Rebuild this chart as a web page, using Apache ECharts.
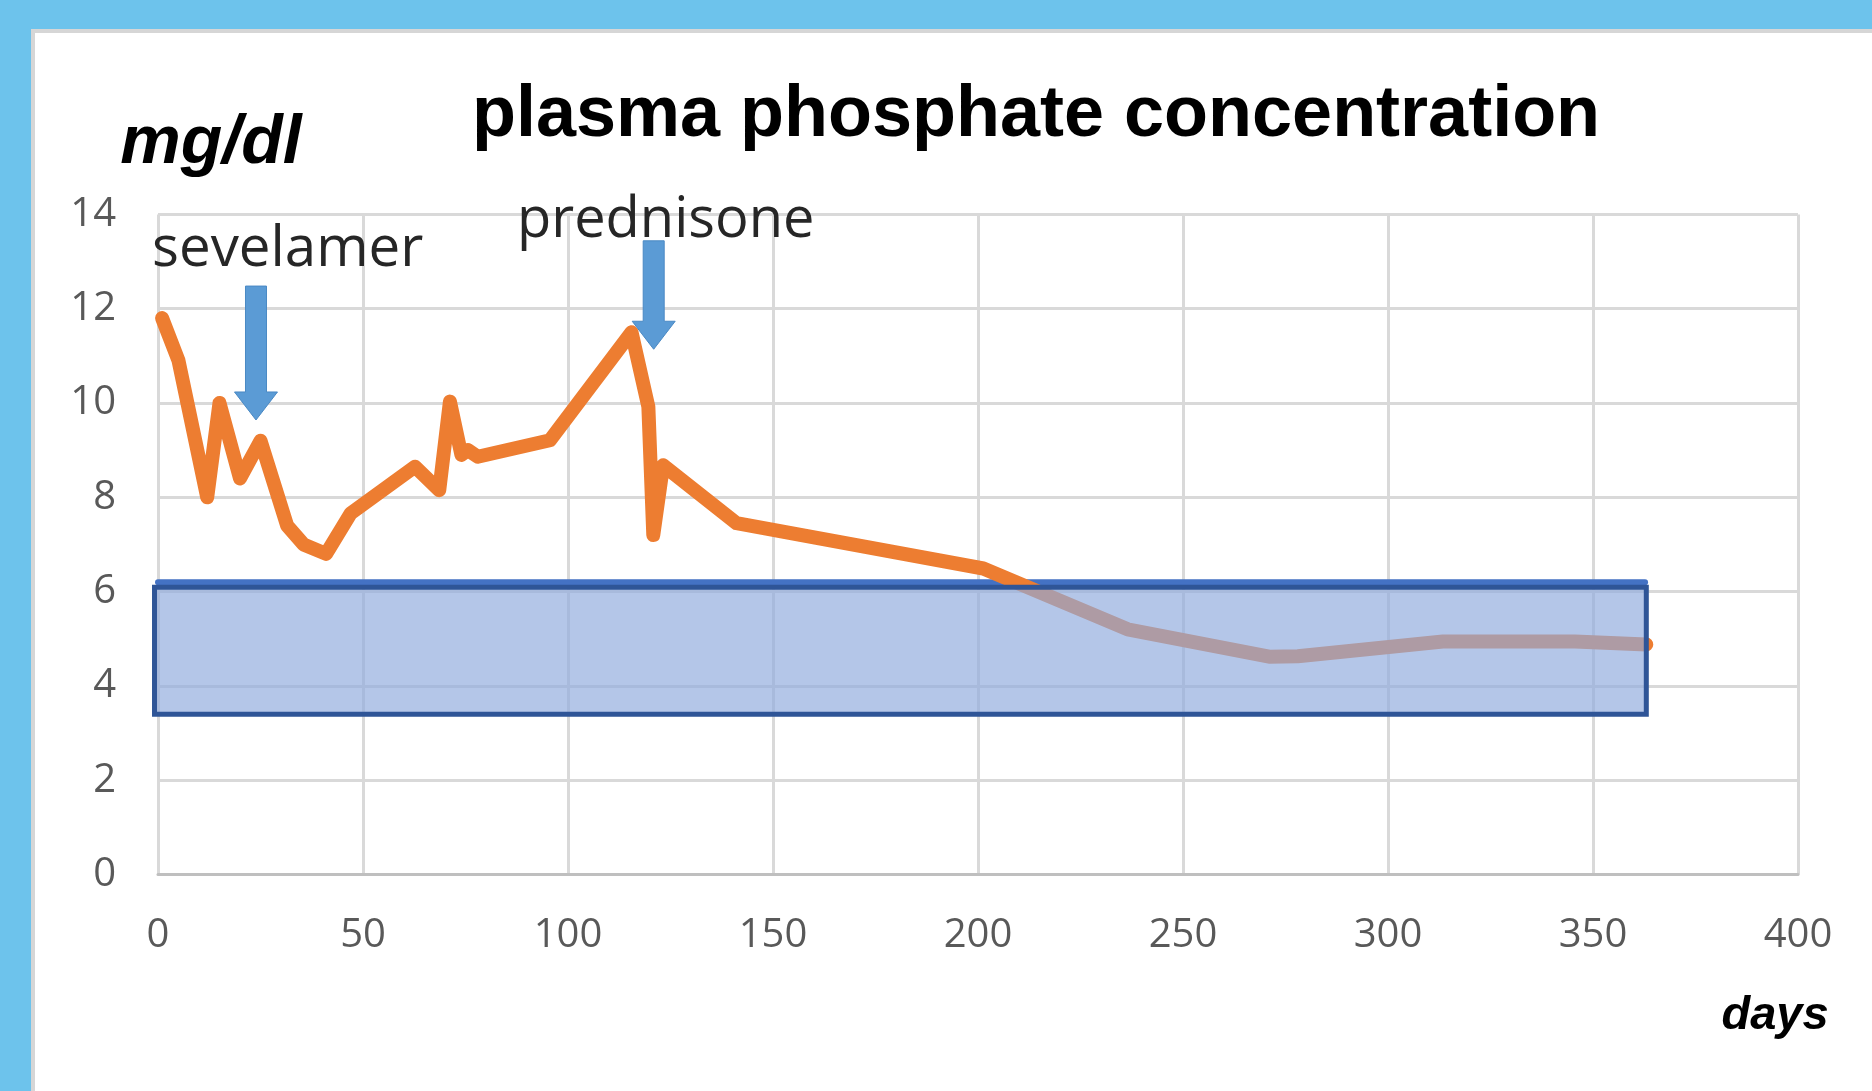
<!DOCTYPE html>
<html><head><meta charset="utf-8">
<script src="https://cdn.jsdelivr.net/npm/echarts@6/dist/echarts.min.js"></script>
<style>html,body{margin:0;padding:0;background:#6DC3EC}#c{width:1872px;height:1091px}</style>
</head><body><div id="c"></div>
<script>
// ---- data ----
const days = [1, 5, 12, 15, 20, 25, 31.5, 35.5, 41, 47, 62.7, 68.6, 71.2, 74, 75.6, 78, 95.6, 115.5, 119.6, 120.8, 123.2, 141.1, 201.3, 236.5, 271, 278, 313.4, 345.6, 363];
const phosphate = [11.8, 10.9, 8.0, 10.0, 8.4, 9.2, 7.4, 7.0, 6.8, 7.66, 8.65, 8.15, 10.03, 8.9, 9.0, 8.86, 9.21, 11.5, 9.92, 7.2, 8.68, 7.45, 6.49, 5.2, 4.62, 4.63, 4.94, 4.94, 4.88];

const arrowLabels = ['sevelamer', 'prednisone'];
const arrowDays = [23.9, 120.9];
const arrowTop = [12.48, 13.44];
const arrowTip = [9.64, 11.14];

const upperLimitValue = 6.2;
const upperLimitDays = [0, 362.7];
const rangeDays = [-0.85, 363];
const rangeValues = [3.4, 6.09];

const xMin = 0, xMax = 400, xStep = 50;
const yMin = 0, yMax = 14, yStep = 2;

const titleText = 'plasma phosphate concentration';
const yUnit = 'mg/dl';
const xUnit = 'days';

// ---- chart ----
const chart = echarts.init(document.getElementById('c'), null, {renderer: 'canvas'});
const labelFont = '"Open Sans", sans-serif';

const option = {
  backgroundColor: '#6DC3EC',
  animation: false,
  grid: {left: 158, right: 74, top: 214.4, bottom: 216.5, containLabel: false, outerBoundsMode: 'none'},
  xAxis: {
    type: 'value', min: xMin, max: xMax, interval: xStep,
    axisLine: {show: true, lineStyle: {color: '#BFBFBF', width: 3}},
    axisTick: {show: false},
    axisLabel: {color: '#595959', fontSize: 40, fontFamily: labelFont, margin: 41},
    splitLine: {show: true, lineStyle: {color: '#D9D9D9', width: 3}}
  },
  yAxis: {
    type: 'value', min: yMin, max: yMax, interval: yStep,
    axisLine: {show: false},
    axisTick: {show: false},
    axisLabel: {color: '#595959', fontSize: 40, fontFamily: labelFont, margin: 42, padding: [7, 0, 0, 0]},
    splitLine: {show: true, lineStyle: {color: '#D9D9D9', width: 3}}
  },
  graphic: [
    {type: 'rect', z: -10, silent: true, shape: {x: 33, y: 31, width: 1872, height: 1091}, style: {fill: '#FFFFFF', stroke: '#D6D6D6', lineWidth: 4}},
    {type: 'text', z: 100, style: {text: titleText, x: 1036, y: 116, align: 'center', verticalAlign: 'middle', font: 'bold 72px "Liberation Sans", Arial, sans-serif', fill: '#000000'}},
    {type: 'text', z: 100, style: {text: yUnit, x: 211, y: 144, align: 'center', verticalAlign: 'middle', font: 'italic bold 68px "Liberation Sans", Arial, sans-serif', fill: '#000000'}},
    {type: 'text', z: 100, style: {text: xUnit, x: 1775, y: 1016, align: 'center', verticalAlign: 'middle', font: 'italic bold 47px "Liberation Sans", Arial, sans-serif', fill: '#000000'}},
    {type: 'text', z: 100, style: {text: arrowLabels[0], x: 152, y: 250, align: 'left', verticalAlign: 'middle', font: '56.5px "Open Sans", sans-serif', fill: '#262626'}},
    {type: 'text', z: 100, style: {text: arrowLabels[1], x: 517, y: 221, align: 'left', verticalAlign: 'middle', font: '56px "Open Sans", sans-serif', fill: '#262626'}}
  ],
  series: [
    {
      type: 'line', name: 'upper limit', symbol: 'none', silent: true, z: 2,
      data: upperLimitDays.map(d => [d, upperLimitValue]),
      lineStyle: {color: '#4472C4', width: 6, cap: 'round'}
    },
    {
      type: 'line', name: 'phosphate', symbol: 'none', silent: true, z: 3,
      data: days.map((d, i) => [d, phosphate[i]]),
      lineStyle: {color: '#ED7D31', width: 14, join: 'round', cap: 'round'}
    },
    {
      type: 'custom', name: 'normal range', clip: false, silent: true, z: 5,
      data: [[rangeDays[0], rangeDays[1], rangeValues[0], rangeValues[1]]],
      encode: {x: [0, 1], y: [2, 3]},
      renderItem: function (params, api) {
        const p0 = api.coord([api.value(0), api.value(3)]);
        const p1 = api.coord([api.value(1), api.value(2)]);
        return {type: 'rect', shape: {x: p0[0], y: p0[1], width: p1[0] - p0[0], height: p1[1] - p0[1]},
          style: {fill: 'rgba(143,170,220,0.67)', stroke: '#2F5597', lineWidth: 5}};
      }
    },
    {
      type: 'custom', name: 'arrows', clip: false, silent: true, z: 6,
      data: arrowDays.map((d, i) => [d, arrowTop[i], arrowTip[i]]),
      encode: {x: 0, y: [1, 2]},
      renderItem: function (params, api) {
        const top = api.coord([api.value(0), api.value(1)]);
        const tip = api.coord([api.value(0), api.value(2)]);
        const x = top[0], hw = 10.5, hh = 21.5, hl = 28;
        const hy = tip[1] - hl;
        return {type: 'polygon', shape: {points: [[x - hw, top[1]], [x + hw, top[1]], [x + hw, hy], [x + hh, hy], [x, tip[1]], [x - hh, hy], [x - hw, hy]]},
          style: {fill: '#5B9BD5', stroke: '#4A89C4', lineWidth: 1}};
      }
    }
  ]
};
chart.setOption(option);
</script>
</body></html>
